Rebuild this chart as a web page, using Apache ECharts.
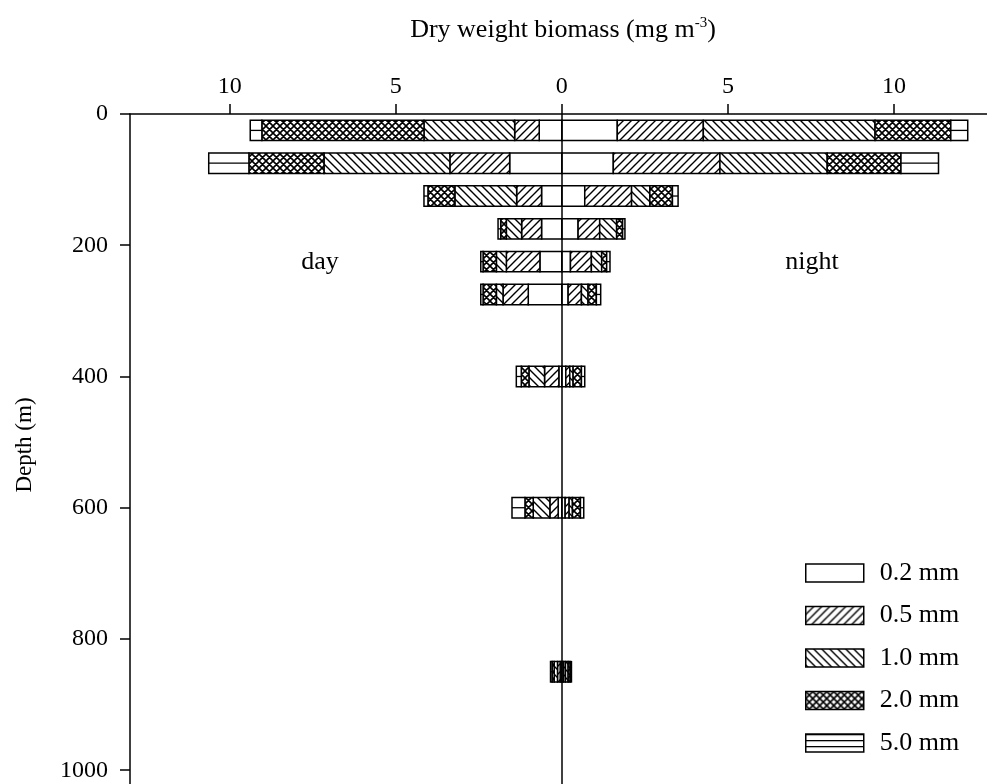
<!DOCTYPE html>
<html>
<head>
<meta charset="utf-8">
<script src="https://cdn.jsdelivr.net/npm/echarts@6/dist/echarts.min.js"></script>
<style>
html,body{margin:0;padding:0;background:#fff;}
#chart{width:987px;height:784px;}
</style>
</head>
<body>
<div id="chart"></div>
<script>
// ---- data (mg m^-3) ----
const depths = [25, 75, 125, 175, 225, 275, 400, 600, 850];
const sizeNames = ['0.2 mm', '0.5 mm', '1.0 mm', '2.0 mm', '5.0 mm'];
const day02 = [0.68, 1.57, 0.61, 0.61, 0.66, 1.01, 0.09, 0.11, 0.05];
const day05 = [0.74, 1.80, 0.75, 0.60, 1.01, 0.76, 0.43, 0.25, 0.08];
const day10 = [2.73, 3.79, 1.86, 0.46, 0.30, 0.20, 0.47, 0.50, 0.10];
const day20 = [4.88, 2.26, 0.81, 0.17, 0.40, 0.40, 0.23, 0.25, 0.06];
const day50 = [0.35, 1.21, 0.12, 0.08, 0.07, 0.07, 0.15, 0.39, 0.05];
const night02 = [1.67, 1.55, 0.69, 0.49, 0.26, 0.19, 0.12, 0.10, 0.05];
const night05 = [2.59, 3.21, 1.41, 0.65, 0.63, 0.40, 0.12, 0.12, 0.06];
const night10 = [5.17, 3.23, 0.55, 0.51, 0.31, 0.20, 0.10, 0.10, 0.08];
const night20 = [2.28, 2.22, 0.68, 0.18, 0.15, 0.25, 0.25, 0.24, 0.06];
const night50 = [0.51, 1.13, 0.17, 0.07, 0.10, 0.13, 0.10, 0.10, 0.04];
const xTicks = [-10, -5, 0, 5, 10];
const yTicks = [0, 200, 400, 600, 800, 1000];

const dayArr = [day02, day05, day10, day20, day50];
const nightArr = [night02, night05, night10, night20, night50];
const kinds = ['plain', 'fwd', 'back', 'cross', 'hlines'];
const FONT = '"Liberation Serif", "Times New Roman", serif';
const BAR_HALF = 15.5;

function makeTile(kind) {
  const s = kind === 'cross' ? 7 : (kind === 'hlines' ? 6 : 8);
  const c = document.createElement('canvas');
  c.width = s; c.height = s;
  const g = c.getContext('2d');
  g.fillStyle = '#fff'; g.fillRect(0, 0, s, s);
  g.strokeStyle = '#000';
  g.lineWidth = kind === 'cross' ? 1.6 : 1.4;
  g.beginPath();
  if (kind === 'fwd' || kind === 'cross') {
    g.moveTo(-1, s + 1); g.lineTo(s + 1, -1);
    g.moveTo(-1, 1); g.lineTo(1, -1);
    g.moveTo(s - 1, s + 1); g.lineTo(s + 1, s - 1);
  }
  if (kind === 'back' || kind === 'cross') {
    g.moveTo(-1, -1); g.lineTo(s + 1, s + 1);
    g.moveTo(s - 1, -1); g.lineTo(s + 1, 1);
    g.moveTo(-1, s - 1); g.lineTo(1, s + 1);
  }
  g.stroke();
  if (kind === 'hlines') { g.fillStyle = '#000'; g.fillRect(0, 0, s, 1.3); }
  return c;
}
const tiles = {};
['fwd', 'back', 'cross', 'hlines'].forEach(k => { tiles[k] = makeTile(k); });
function fillFor(kind) {
  return (tiles[kind] && kind !== 'hlines') ? { image: tiles[kind], repeat: 'repeat' } : '#fff';
}
function legendFill(kind) {
  return tiles[kind] ? { image: tiles[kind], repeat: 'repeat' } : '#fff';
}

function buildData(k) {
  const out = [];
  depths.forEach((d, i) => {
    let dBefore = 0, nBefore = 0;
    for (let j = 0; j < k; j++) { dBefore += dayArr[j][i]; nBefore += nightArr[j][i]; }
    out.push([-dBefore, -(dBefore + dayArr[k][i]), d]);
    out.push([nBefore, nBefore + nightArr[k][i], d]);
  });
  return out;
}

function makeRender(kind) {
  return function (params, api) {
    const a = api.coord([api.value(0), api.value(2) - BAR_HALF]);
    const b = api.coord([api.value(1), api.value(2) + BAR_HALF]);
    const x = Math.min(a[0], b[0]), y = Math.min(a[1], b[1]);
    const w = Math.abs(b[0] - a[0]), h = Math.abs(b[1] - a[1]);
    const children = [{
      type: 'rect', shape: { x: x, y: y, width: w, height: h },
      style: { fill: fillFor(kind), stroke: '#000', lineWidth: 1.5 }
    }];
    if (kind === 'hlines') {
      children.push({
        type: 'line', shape: { x1: x, y1: y + h / 2, x2: x + w, y2: y + h / 2 },
        style: { stroke: '#000', lineWidth: 1.3 }
      });
    }
    return { type: 'group', children: children };
  };
}

const series = sizeNames.map((name, k) => {
  const s = {
    name: name,
    type: 'custom',
    renderItem: makeRender(kinds[k]),
    encode: { x: [0, 1], y: 2 },
    itemStyle: { color: legendFill(kinds[k]), borderColor: '#000', borderWidth: 1.5 },
    data: buildData(k),
    silent: true
  };
  if (k === 0) {
    s.markLine = {
      silent: true, symbol: ['none', 'none'], label: { show: false },
      lineStyle: { color: '#000', width: 1.5, type: 'solid' },
      data: [{ xAxis: 0 }]
    };
  }
  return s;
});

const chart = echarts.init(document.getElementById('chart'));
chart.setOption({
  animation: false,
  backgroundColor: '#fff',
  grid: { left: 130, right: 0, top: 114, bottom: 0, containLabel: false },
  xAxis: {
    type: 'value', position: 'top', min: -13, max: 12.8,
    axisLine: { show: true, onZero: false, lineStyle: { color: '#000', width: 1.5 } },
    axisTick: { show: true, inside: false, length: 10, lineStyle: { color: '#000', width: 1.5 }, customValues: xTicks },
    axisLabel: { customValues: xTicks, formatter: v => String(Math.abs(v)), fontSize: 24, fontFamily: FONT, color: '#000', margin: 15 },
    splitLine: { show: false }
  },
  yAxis: {
    type: 'value', inverse: true, min: 0, max: 1021,
    axisLine: { show: true, onZero: false, lineStyle: { color: '#000', width: 1.5 } },
    axisTick: { show: true, inside: false, length: 10, lineStyle: { color: '#000', width: 1.5 }, customValues: yTicks },
    axisLabel: { customValues: yTicks, formatter: v => String(v), fontSize: 24, fontFamily: FONT, color: '#000', margin: 22 },
    splitLine: { show: false }
  },
  legend: {
    orient: 'vertical', left: 805, top: 560, padding: 0,
    icon: 'rect',
    itemWidth: 58, itemHeight: 18, itemGap: 16.5,
    selectedMode: false,
    itemStyle: { borderColor: '#000', borderWidth: 1.5 },
    textStyle: { fontFamily: FONT, fontSize: 26, color: '#000', padding: [0, 0, 0, 11] },
    data: sizeNames.map((n, k) => ({ name: n, itemStyle: { color: legendFill(kinds[k]), borderColor: '#000', borderWidth: 1.5 } }))
  },
  graphic: [
    { type: 'text', x: 563, y: 30, style: { text: 'Dry weight biomass (mg m{sup|-3})', rich: { sup: { fontSize: 15, fontFamily: FONT, fill: '#000', padding: [0, 0, 13, 0] } }, font: '26px ' + FONT, fill: '#000', textAlign: 'center', textVerticalAlign: 'middle' } },
    { type: 'text', x: 25, y: 445, rotation: Math.PI / 2, style: { text: 'Depth (m)', font: '23px ' + FONT, fill: '#000', textAlign: 'center', textVerticalAlign: 'middle' } },
    { type: 'text', x: 320, y: 262, style: { text: 'day', font: '26px ' + FONT, fill: '#000', textAlign: 'center', textVerticalAlign: 'middle' } },
    { type: 'text', x: 812, y: 262, style: { text: 'night', font: '26px ' + FONT, fill: '#000', textAlign: 'center', textVerticalAlign: 'middle' } }
  ],
  series: series
});
</script>
</body>
</html>
